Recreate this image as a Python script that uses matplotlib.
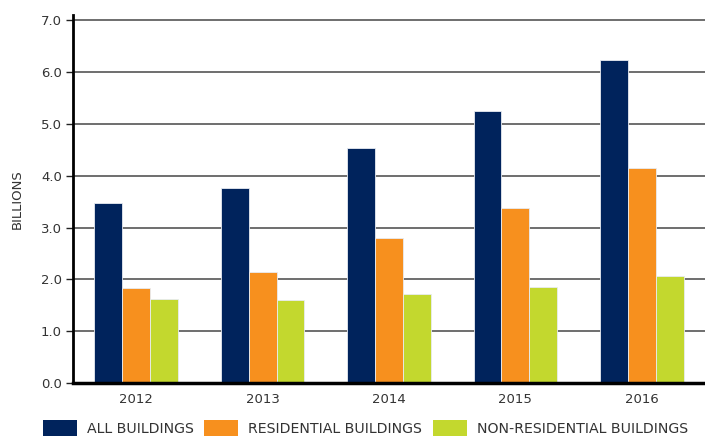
import numpy as np
import matplotlib
matplotlib.use("Agg")
import matplotlib.pyplot as plt
from matplotlib.patches import Patch

# data (billions)
years = ["2012", "2013", "2014", "2015", "2016"]
all_buildings = [3.47, 3.76, 4.53, 5.25, 6.24]
residential = [1.83, 2.15, 2.80, 3.38, 4.15]
non_residential = [1.62, 1.61, 1.71, 1.85, 2.06]
series_labels = ["ALL BUILDINGS", "RESIDENTIAL BUILDINGS", "NON-RESIDENTIAL BUILDINGS"]
yticks = [0.0, 1.0, 2.0, 3.0, 4.0, 5.0, 6.0, 7.0]

NAVY = "#00235C"
ORANGE = "#F7901E"
LIME = "#C3D82E"
TEXT = "#333333"

plt.rcParams["font.family"] = ["DejaVu Sans"]

fig = plt.figure(figsize=(7.05, 4.37), dpi=100)
ax = fig.add_axes([73 / 705, 54 / 437, 632 / 705, 368 / 437])

x = np.arange(len(years))
w = 0.22
colors = [NAVY, ORANGE, LIME]
for i, (vals, c) in enumerate(zip([all_buildings, residential, non_residential], colors)):
    ax.bar(x + (i - 1) * w, vals, width=w, color=c, edgecolor="#e8ecf2",
           linewidth=0.6, zorder=3)

ax.set_xlim(-0.5, len(years) - 0.5)
ax.set_ylim(0, 7.1)
ax.set_yticks(yticks)
ax.set_yticklabels([f"{t:.1f}" for t in yticks], fontsize=9.5, color=TEXT)
ax.set_xticks(x)
ax.set_xticklabels(years, fontsize=9.5, color=TEXT)
ax.tick_params(axis="x", length=0, pad=7)
ax.tick_params(axis="y", length=5, width=1, color="#222222", pad=3)

ax.yaxis.grid(True, color="#555555", linewidth=1.2, zorder=0)
ax.set_axisbelow(True)

for s in ["top", "right"]:
    ax.spines[s].set_visible(False)
for s in ["left", "bottom"]:
    ax.spines[s].set_color("black")
    ax.spines[s].set_zorder(5)
ax.spines["left"].set_linewidth(2)
ax.spines["bottom"].set_linewidth(2.5)

ax.set_ylabel("BILLIONS", fontsize=9.5, color=TEXT, labelpad=12)

handles = [Patch(facecolor=c, edgecolor="none") for c in colors]
fig.legend(handles, series_labels, loc="upper left", bbox_to_anchor=(43 / 705, 17 / 437),
           ncol=3, frameon=False, fontsize=10.2, borderpad=0, borderaxespad=0,
           handlelength=2.4, handleheight=1.4, handletextpad=0.7, columnspacing=0.75,
           labelcolor=TEXT)

fig.savefig("out.png", dpi=100)
